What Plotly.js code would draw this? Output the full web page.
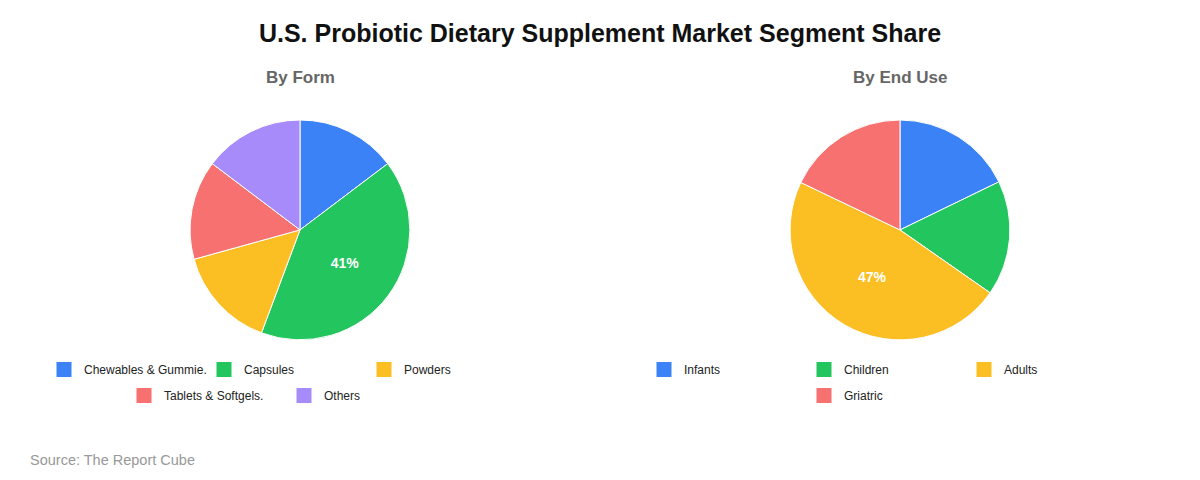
<!DOCTYPE html>
<html>
<head>
<meta charset="utf-8">
<script src="https://cdn.plot.ly/plotly-3.0.1.min.js"></script>
<style>
  html, body { margin: 0; padding: 0; background: #fff; }
  #chart { width: 1200px; height: 480px; }
</style>
</head>
<body>
<div id="chart"></div>
<script>
//  ======== DATA ========
var formLabels = ['Chewables & Gummie.', 'Capsules', 'Powders', 'Tablets & Softgels.', 'Others'];
var formValues = [14.7, 41.0, 15.0, 14.6, 14.7];
var formColors = ['#3b82f6', '#22c55e', '#fbbf24', '#f87171', '#a78bfa'];

var useLabels = ['Infants', 'Children', 'Adults', 'Griatric'];
var useValues = [17.8, 16.9, 47.4, 17.9];
var useColors = ['#3b82f6', '#22c55e', '#fbbf24', '#f87171'];

var font = 'Arial, "Liberation Sans", sans-serif';
var W = 1200, H = 480;

// only the biggest slice gets a label
function bigLabel(values) {
  var sum = values.reduce(function(a, b) { return a + b; }, 0);
  var max = Math.max.apply(null, values);
  return values.map(function(v) {
    return v === max ? Math.round(v / sum * 100) + '%' : '';
  });
}

function pieTrace(labels, values, colors, xdom) {
  return {
    type: 'pie',
    labels: labels,
    values: values,
    text: bigLabel(values),
    textinfo: 'text',
    textposition: 'inside',
    insidetextfont: {color: '#fff', size: 14, family: font, weight: 'bold'},
    sort: false,
    direction: 'clockwise',
    marker: {colors: colors, line: {color: '#fff', width: 1}},
    domain: {x: xdom, y: [0.292, 0.75]},
    showlegend: false,
    hoverinfo: 'label+percent'
  };
}

// legend rows (3 per row, rows centred under each pie) -> one legend per row
function legendTraces(labels, colors, legendIds) {
  return labels.map(function(lab, i) {
    return {
      type: 'scatter', mode: 'markers',
      x: [null], y: [null],
      name: lab,
      marker: {symbol: 'square', size: 15, color: colors[i], line: {width: 0}},
      legend: legendIds[Math.floor(i / 3)],
      hoverinfo: 'skip'
    };
  });
}

var data = [
  pieTrace(formLabels, formValues, formColors, [0, 0.5]),
  pieTrace(useLabels, useValues, useColors, [0.5, 1])
].concat(legendTraces(formLabels, formColors, ['legend', 'legend2']))
 .concat(legendTraces(useLabels, useColors, ['legend3', 'legend4']));

function legendAt(leftPx, topPx) {
  return {
    orientation: 'h',
    x: leftPx / W, xanchor: 'left',
    y: 1 - topPx / H, yanchor: 'top',
    entrywidth: 115,
    entrywidthmode: 'pixels',
    font: {size: 12, family: font, color: '#222'},
    bgcolor: 'rgba(0,0,0,0)'
  };
}

var layout = {
  width: W,
  height: H,
  margin: {l: 0, r: 0, t: 0, b: 0},
  paper_bgcolor: '#fff',
  plot_bgcolor: '#fff',
  font: {family: font},
  xaxis: {visible: false},
  yaxis: {visible: false},
  title: {
    text: 'U.S. Probiotic Dietary Supplement Market Segment Share',
    font: {size: 25, color: '#111', family: font, weight: 'bold'},
    x: 0.5, xanchor: 'center',
    y: 1 - 33 / H, yanchor: 'middle'
  },
  legend: legendAt(44, 355),
  legend2: legendAt(124, 381),
  legend3: legendAt(644, 355),
  legend4: legendAt(804, 381),
  annotations: [
    {text: '<b>By Form</b>', x: 0.25, y: 1 - 77 / H, xref: 'paper', yref: 'paper',
     xanchor: 'center', yanchor: 'middle', showarrow: false,
     font: {size: 17, color: '#666', family: font}},
    {text: '<b>By End Use</b>', x: 0.75, y: 1 - 77 / H, xref: 'paper', yref: 'paper',
     xanchor: 'center', yanchor: 'middle', showarrow: false,
     font: {size: 17, color: '#666', family: font}},
    {text: 'Source: The Report Cube', x: 28 / W, y: 1 - 460 / H, xref: 'paper', yref: 'paper',
     xanchor: 'left', yanchor: 'middle', showarrow: false,
     font: {size: 14.5, color: '#999', family: font}}
  ]
};

Plotly.newPlot('chart', data, layout, {displayModeBar: false});
</script>
</body>
</html>
